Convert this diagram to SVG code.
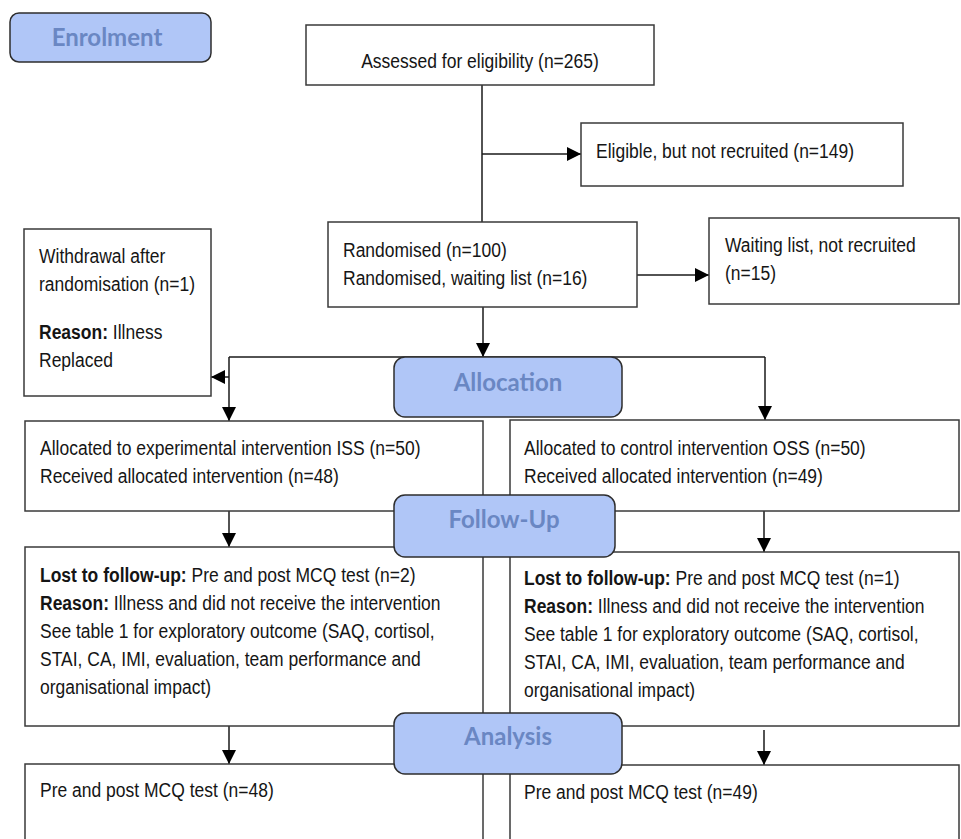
<svg xmlns="http://www.w3.org/2000/svg" width="961" height="839" viewBox="0 0 961 839">
<style>
.box{fill:#fff;stroke:#3a3a3a;stroke-width:1.5}
.hdr{fill:#b0c6f7;stroke:#2e2e2e;stroke-width:1.5}
.t{font-family:"Liberation Sans",Arial,Helvetica,sans-serif;font-size:17.5px;fill:#151515}
.b{font-weight:bold}
.h{font-family:Lato,"Open Sans","DejaVu Sans",sans-serif;font-weight:bold;font-size:24px;fill:#6a87c3;text-anchor:middle}
.ln{fill:none;stroke:#1a1a1a;stroke-width:1.5}
</style>
<defs>
<marker id="arr" markerUnits="userSpaceOnUse" markerWidth="15" markerHeight="14" refX="14" refY="7" orient="auto">
<path d="M0,0 L14,7 L0,14 z" fill="#000"/>
</marker>
</defs>
<rect width="961" height="839" fill="#fff"/>

<g id="connectors">
<line class="ln" x1="482" y1="85" x2="482" y2="222"/>
<line class="ln" x1="482" y1="154" x2="581" y2="154" marker-end="url(#arr)"/>
<line class="ln" x1="637" y1="275" x2="709" y2="275" marker-end="url(#arr)"/>
<line class="ln" x1="483" y1="307" x2="483" y2="357" marker-end="url(#arr)"/>
<line class="ln" x1="229" y1="357" x2="765" y2="357"/>
<line class="ln" x1="229" y1="357" x2="229" y2="421" marker-end="url(#arr)"/>
<line class="ln" x1="229" y1="377" x2="211" y2="377" marker-end="url(#arr)"/>
<line class="ln" x1="765" y1="357" x2="765" y2="420" marker-end="url(#arr)"/>
<line class="ln" x1="229" y1="511" x2="229" y2="547" marker-end="url(#arr)"/>
<line class="ln" x1="764" y1="511" x2="764" y2="552" marker-end="url(#arr)"/>
<line class="ln" x1="229" y1="726" x2="229" y2="764" marker-end="url(#arr)"/>
<line class="ln" x1="764" y1="730" x2="764" y2="765" marker-end="url(#arr)"/>
</g>

<g id="assessed">
<rect class="box" x="306" y="25" width="348" height="60"/>
<text class="t" transform="translate(480,68) scale(1,1.15)" text-anchor="middle">Assessed for eligibility (n=265)</text>
</g>

<g id="eligible">
<rect class="box" x="581" y="123" width="322" height="63"/>
<text class="t" transform="translate(596,158) scale(1,1.15)">Eligible, but not recruited (n=149)</text>
</g>

<g id="randomised">
<rect class="box" x="328" y="222" width="309" height="85"/>
<text class="t" transform="translate(343,257) scale(1,1.15)">Randomised (n=100)</text>
<text class="t" transform="translate(343,285) scale(1,1.15)">Randomised, waiting list (n=16)</text>
</g>

<g id="waiting">
<rect class="box" x="709" y="218" width="250" height="86"/>
<text class="t" transform="translate(725,252) scale(1,1.15)">Waiting list, not recruited</text>
<text class="t" transform="translate(725,280) scale(1,1.15)">(n=15)</text>
</g>

<g id="withdrawal">
<rect class="box" x="24" y="229" width="187" height="167"/>
<text class="t" transform="translate(39,263) scale(1,1.15)">Withdrawal after</text>
<text class="t" transform="translate(39,291) scale(1,1.15)">randomisation (n=1)</text>
<text class="t" transform="translate(39,339) scale(1,1.15)"><tspan class="b">Reason:</tspan> Illness</text>
<text class="t" transform="translate(39,367) scale(1,1.15)">Replaced</text>
</g>

<g id="alloc-left">
<rect class="box" x="25" y="421" width="458" height="90"/>
<text class="t" transform="translate(40,455) scale(1,1.15)">Allocated to experimental intervention ISS (n=50)</text>
<text class="t" transform="translate(40,483) scale(1,1.15)">Received allocated intervention (n=48)</text>
</g>

<g id="alloc-right">
<rect class="box" x="510" y="420" width="449" height="91"/>
<text class="t" transform="translate(524,455) scale(1,1.15)">Allocated to control intervention OSS (n=50)</text>
<text class="t" transform="translate(524,483) scale(1,1.15)">Received allocated intervention (n=49)</text>
</g>

<g id="lost-left">
<rect class="box" x="25" y="547" width="458" height="179"/>
<text class="t" transform="translate(40,582) scale(1,1.15)"><tspan class="b">Lost to follow-up:</tspan> Pre and post MCQ test (n=2)</text>
<text class="t" transform="translate(40,610) scale(1,1.15)"><tspan class="b">Reason:</tspan> Illness and did not receive the intervention</text>
<text class="t" transform="translate(40,638) scale(1,1.15)">See table 1 for exploratory outcome (SAQ, cortisol,</text>
<text class="t" transform="translate(40,666) scale(1,1.15)">STAI, CA, IMI, evaluation, team performance and</text>
<text class="t" transform="translate(40,694) scale(1,1.15)">organisational impact)</text>
</g>

<g id="lost-right">
<rect class="box" x="510" y="552" width="449" height="174"/>
<text class="t" transform="translate(524,585) scale(1,1.15)"><tspan class="b">Lost to follow-up:</tspan> Pre and post MCQ test (n=1)</text>
<text class="t" transform="translate(524,613) scale(1,1.15)"><tspan class="b">Reason:</tspan> Illness and did not receive the intervention</text>
<text class="t" transform="translate(524,641) scale(1,1.15)">See table 1 for exploratory outcome (SAQ, cortisol,</text>
<text class="t" transform="translate(524,669) scale(1,1.15)">STAI, CA, IMI, evaluation, team performance and</text>
<text class="t" transform="translate(524,697) scale(1,1.15)">organisational impact)</text>
</g>

<g id="pre-left">
<rect class="box" x="25" y="764" width="458" height="100"/>
<text class="t" transform="translate(40,797) scale(1,1.15)">Pre and post MCQ test (n=48)</text>
</g>

<g id="pre-right">
<rect class="box" x="510" y="765" width="449" height="100"/>
<text class="t" transform="translate(524,799) scale(1,1.15)">Pre and post MCQ test (n=49)</text>
</g>

<g id="enrolment">
<rect class="hdr" x="10" y="13" width="201" height="49" rx="9"/>
<text class="h" x="107" y="46">Enrolment</text>
</g>

<g id="allocation">
<rect class="hdr" x="394" y="357" width="228" height="60" rx="11"/>
<text class="h" x="508" y="391">Allocation</text>
</g>

<g id="follow-up">
<rect class="hdr" x="394" y="495" width="221" height="62" rx="11"/>
<text class="h" x="504" y="528">Follow-Up</text>
</g>

<g id="analysis">
<rect class="hdr" x="394" y="713" width="228" height="61" rx="11"/>
<text class="h" x="508" y="745">Analysis</text>
</g>
</svg>
